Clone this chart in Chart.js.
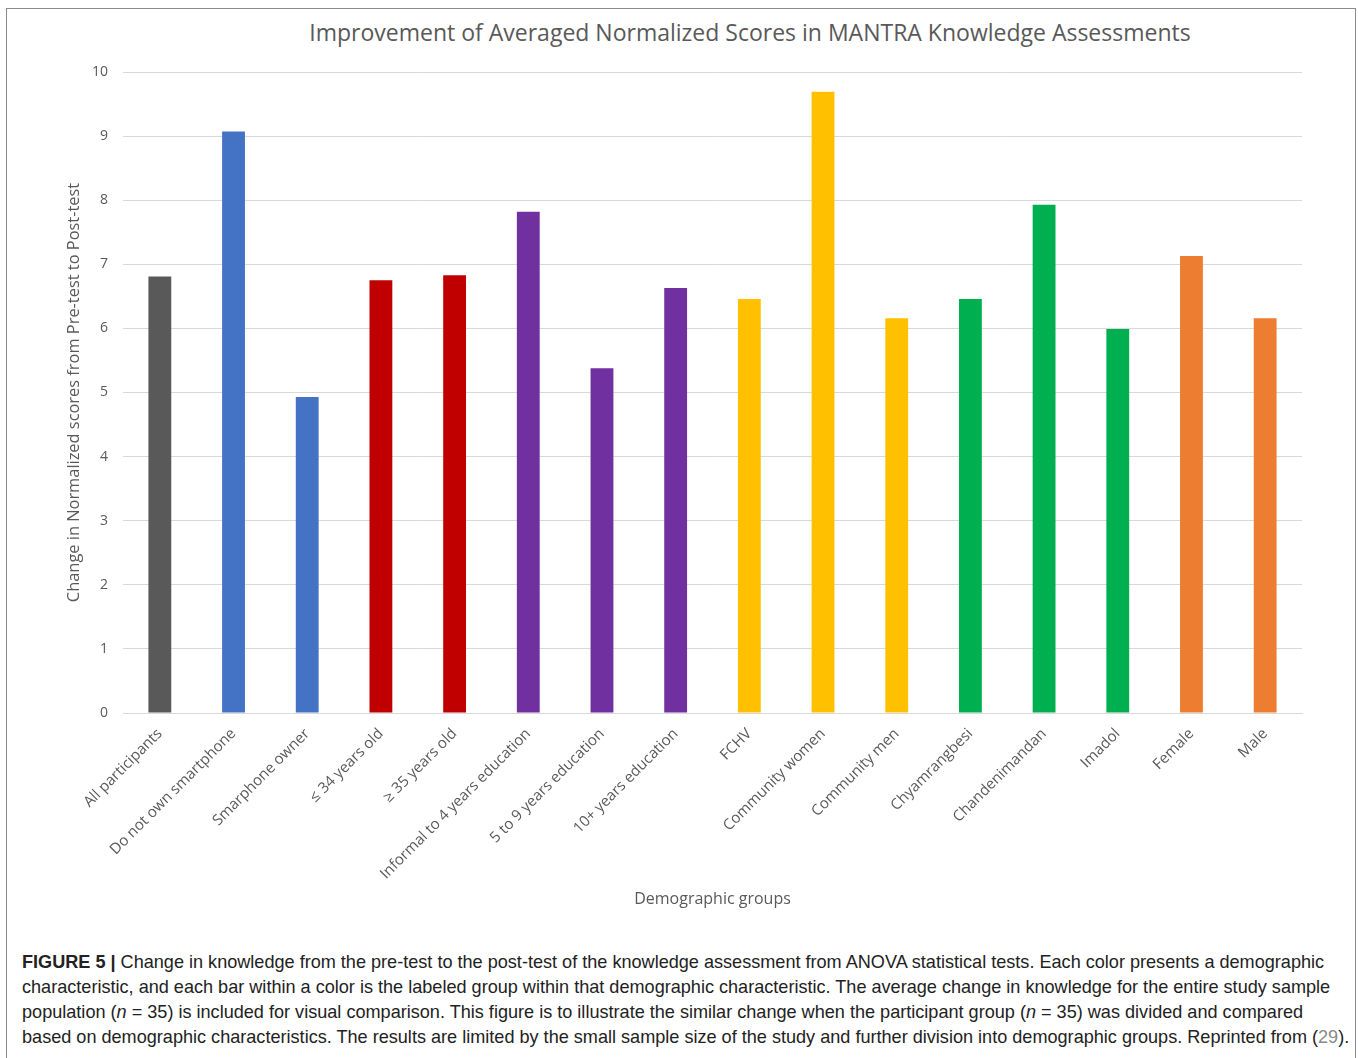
<!DOCTYPE html>
<html>
<head>
<meta charset="utf-8">
<script src="https://cdn.jsdelivr.net/npm/chart.js@4.4.0/dist/chart.umd.min.js"></script>
<style>
  body { margin: 0; background: #fff; width: 1358px; height: 1058px; overflow: hidden; position: relative; }
  #frame { position: absolute; left: 6px; top: 8px; width: 1350px; height: 1060px; border: 1px solid #8a8a8a; box-sizing: border-box; }
  #title { position: absolute; left: 0; width: 1500px; top: 16px; text-align: center; font: 23px "Open Sans", sans-serif; color: #595959; white-space: nowrap; }
  #chart { position: absolute; left: 0; top: 0; }
  #caption { position: absolute; left: 22px; top: 950px; font: 18.1px "Liberation Sans", sans-serif; color: #222; }
  #caption div { height: 25px; line-height: 25px; white-space: nowrap; }
  #caption b { font-weight: bold; }
  .cite { color: #8a8a8a; }
</style>
</head>
<body>
<div id="frame"></div>
<div id="title">Improvement of Averaged Normalized Scores in MANTRA Knowledge Assessments</div>
<canvas id="chart" width="1358" height="940"></canvas>
<div id="caption">
  <div><b>FIGURE 5 |</b> Change in knowledge from the pre-test to the post-test of the knowledge assessment from ANOVA statistical tests. Each color presents a demographic</div>
  <div>characteristic, and each bar within a color is the labeled group within that demographic characteristic. The average change in knowledge for the entire study sample</div>
  <div>population (<i>n</i> = 35) is included for visual comparison. This figure is to illustrate the similar change when the participant group (<i>n</i> = 35) was divided and compared</div>
  <div>based on demographic characteristics. The results are limited by the small sample size of the study and further division into demographic groups. Reprinted from (<span class="cite">29</span>).</div>
</div>
<script>
// demographic groups along the x axis
const groups = [
  'All participants', 'Do not own smartphone', 'Smarphone owner',
  '\u2264 34 years old', '\u2265 35 years old',
  'Informal to 4 years education', '5 to 9 years education', '10+ years education',
  'FCHV', 'Community women', 'Community men',
  'Chyamrangbesi', 'Chandenimandan', 'Imadol',
  'Female', 'Male'
];
// change in normalized score, pre-test -> post-test
const scoreChange = [6.81, 9.07, 4.93, 6.75, 6.83, 7.82, 5.38, 6.63, 6.46, 9.69, 6.16, 6.46, 7.93, 5.99, 7.13, 6.16];
// one colour per demographic characteristic
const barColors = [
  '#595959',
  '#4472C4', '#4472C4',
  '#C00000', '#C00000',
  '#7030A0', '#7030A0', '#7030A0',
  '#FFC000', '#FFC000', '#FFC000',
  '#00B050', '#00B050', '#00B050',
  '#ED7D31', '#ED7D31'
];
const yTicks = [0, 1, 2, 3, 4, 5, 6, 7, 8, 9, 10];

const font = 'Open Sans';
const grey = '#595959';

new Chart(document.getElementById('chart'), {
  type: 'bar',
  data: {
    labels: groups,
    datasets: [{
      data: scoreChange,
      backgroundColor: barColors,
      barPercentage: 0.31,
      categoryPercentage: 1
    }]
  },
  options: {
    responsive: false,
    animation: false,
    layout: { padding: { left: 60, right: 56, top: 72, bottom: 27 } },
    plugins: { legend: { display: false }, tooltip: { enabled: false }, title: { display: false } },
    scales: {
      x: {
        grid: { display: false, drawTicks: false },
        border: { color: '#d9d9d9', width: 1 },
        ticks: { color: grey, font: { family: font, size: 15 }, minRotation: 45, maxRotation: 45, padding: 12 },
        title: { display: true, text: 'Demographic groups', color: grey, font: { family: font, size: 16 }, padding: 4 },
        afterFit: (s) => { s.height = 200; }
      },
      y: {
        min: 0, max: 10,
        afterBuildTicks: (s) => { s.ticks = yTicks.map(v => ({ value: v })); },
        grid: { color: '#d9d9d9', drawTicks: false },
        border: { display: false },
        ticks: { color: grey, font: { family: font, size: 14 }, padding: 15 },
        title: { display: true, text: 'Change in Normalized scores from Pre-test to Post-test', color: grey, font: { family: font, size: 16.4 }, padding: 4 },
        afterFit: (s) => { s.width = 63; }
      }
    }
  }
});
</script>
</body>
</html>
